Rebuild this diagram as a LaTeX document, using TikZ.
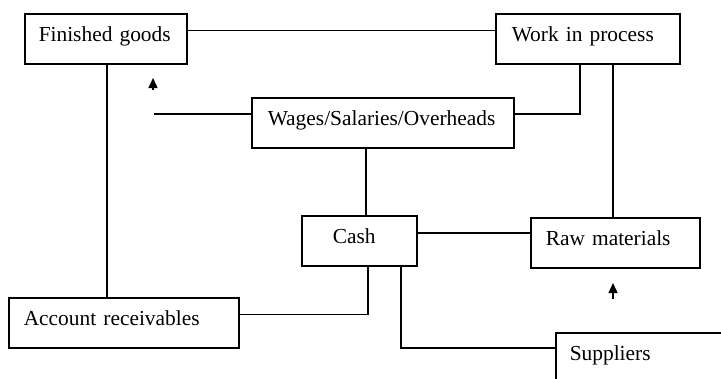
\documentclass[tikz,border=0pt]{standalone}
\usepackage{fontspec}
\setmainfont{Liberation Serif}
\usetikzlibrary{arrows.meta}
\begin{document}
\begin{tikzpicture}[x=1pt,y=-1pt,
  line width=1.5pt,
  box/.style={draw, rectangle, anchor=north west, align=left,
    font=\fontsize{21.4}{25}\selectfont,
    text height=13pt, text depth=7pt, inner ysep=15pt},
  link/.style={draw},
  uparrow/.style={-{Triangle[width=9pt,length=10pt]}}]
\useasboundingbox (0,0) rectangle (721,378);
\clip (0,0) rectangle (721,378);

% cycle elements
\node[box, inner xsep=14pt, text width=134pt] (fg)    at (24,13)  {Finished goods};
\node[box, inner xsep=16pt, text width=152pt] (wip)   at (495,13) {Work in process};
\node[box, inner xsep=16pt, text width=230pt] (wages) at (251,97) {Wages/Salaries/Overheads};
\node[box, inner xsep=31pt, text width=53pt]  (cash)  at (301,215) {Cash};
\node[box, inner xsep=15pt, text width=139pt] (raw)   at (530,217) {Raw materials};
\node[box, inner xsep=15pt, text width=200pt] (ar)    at (8,297)  {Account receivables};
\node[box, inner xsep=14pt, text width=157pt] (sup)   at (555,332) {Suppliers};

% connectors
\draw[link] ([yshift=8.5pt]fg.east) -- ([yshift=8.5pt]fg.east -| wip.west);
\draw[link] ([xshift=-8pt]wip.south) |- ([yshift=9pt]wages.east);
\draw[link] ([xshift=25pt]wip.south) -- ([xshift=25pt]wip.south |- raw.north);
\coordinate (wend) at ([yshift=9pt]wages.west -| 154,0);
\draw[link] ([yshift=9pt]wages.west) -- (wend);
\draw[link] ([xshift=-17pt]wages.south) -- ([xshift=-17pt]wages.south |- cash.north);
\draw[link] ([xshift=1pt]fg.south) -- ([xshift=1pt]fg.south |- ar.north);
\draw[link] ([yshift=8.5pt]ar.east) -| ([xshift=8.5pt]cash.south);
\draw[link] ([yshift=8pt]cash.east) -- ([yshift=8pt]cash.east -| raw.west);
\draw[link] ([xshift=41.5pt]cash.south) |- ([yshift=10pt]sup.west);

% direction marks
\coordinate (a1base) at (153,90);
\coordinate (a1tip)  at (153,78);
\coordinate (a2base) at (613,299);
\coordinate (a2tip)  at (613,283);
\draw[uparrow, line width=1.4pt] (a1base) -- (a1tip);
\draw[uparrow, line width=1.4pt] (a2base) -- (a2tip);
\end{tikzpicture}
\end{document}
